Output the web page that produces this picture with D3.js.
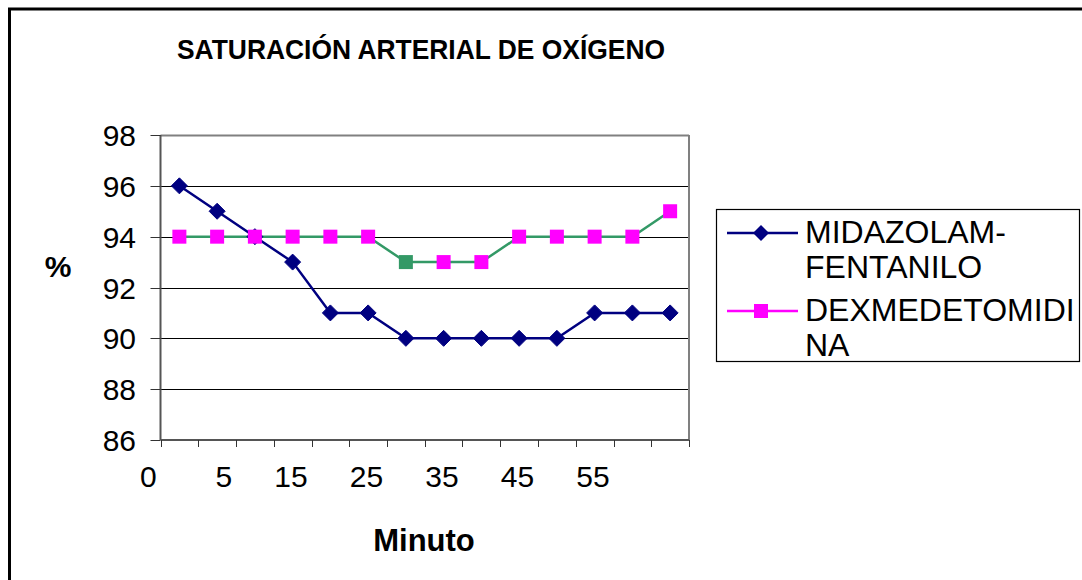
<!DOCTYPE html>
<html>
<head>
<meta charset="utf-8">
<script src="https://cdn.jsdelivr.net/npm/d3@7"></script>
<style>
  html, body { margin: 0; padding: 0; background: #fff; }
  svg { display: block; font-family: "Liberation Sans", Arial, sans-serif; }
</style>
</head>
<body>
<svg id="chart" width="1082" height="580"></svg>
<script>
// ---- data ----
const categories = ["1","2","3","4","5","6","7","8","9","10","11","12","13","14"];
const midazolam = [96, 95, 94, 93, 91, 91, 90, 90, 90, 90, 90, 91, 91, 91];
const dexmed    = [94, 94, 94, 94, 94, 94, 93, 93, 93, 94, 94, 94, 94, 95];
const xTickLabels = ["0", "5", "15", "25", "35", "45", "55"];
const yTicks = [86, 88, 90, 92, 94, 96, 98];
const seriesNames = [["MIDAZOLAM-", "FENTANILO"], ["DEXMEDETOMIDI", "NA"]];
const title = "SATURACIÓN ARTERIAL DE OXÍGENO";

// ---- layout ----
const svg = d3.select("#chart");
const plot = { left: 160.5, right: 689, top: 135, bottom: 440 };

const xIdx = d3.scaleLinear().domain([-0.5, categories.length - 0.5]).range([plot.left, plot.right]);
const y = d3.scaleLinear().domain([86, 98]).range([plot.bottom, plot.top]);

// outer chart border (extends beyond viewport on right/bottom)
svg.append("rect")
  .attr("x", 9.5).attr("y", 9).attr("width", 1100).attr("height", 600)
  .attr("fill", "none").attr("stroke", "#000").attr("stroke-width", 3);

// title
svg.append("text")
  .attr("x", 177).attr("y", 59)
  .attr("font-size", 28).attr("font-weight", "bold")
  .attr("textLength", 488).attr("lengthAdjust", "spacingAndGlyphs")
  .text(title);

// gridlines
svg.append("g").selectAll("line").data(yTicks.filter(t => t > 86)).join("line")
  .attr("x1", plot.left).attr("x2", plot.right)
  .attr("y1", d => Math.round(y(d)) + 0.5).attr("y2", d => Math.round(y(d)) + 0.5)
  .attr("stroke", d => d === 98 ? "#808080" : "#000").attr("stroke-width", d => d === 98 ? 2 : 1);

// plot right border
svg.append("line")
  .attr("x1", plot.right).attr("x2", plot.right)
  .attr("y1", plot.top).attr("y2", plot.bottom)
  .attr("stroke", "#808080").attr("stroke-width", 2);

// y axis
svg.append("line")
  .attr("x1", plot.left).attr("x2", plot.left)
  .attr("y1", plot.top).attr("y2", plot.bottom)
  .attr("stroke", "#555").attr("stroke-width", 2);
svg.append("g").selectAll("line").data(yTicks).join("line")
  .attr("x1", plot.left - 10).attr("x2", plot.left)
  .attr("y1", d => Math.round(y(d)) + 0.5).attr("y2", d => Math.round(y(d)) + 0.5)
  .attr("stroke", "#333").attr("stroke-width", 1);
svg.append("g").selectAll("text").data(yTicks).join("text")
  .attr("x", 136).attr("y", d => y(d) + 11)
  .attr("text-anchor", "end").attr("font-size", 30)
  .text(d => d);

// x axis
svg.append("line")
  .attr("x1", plot.left).attr("x2", plot.right)
  .attr("y1", plot.bottom).attr("y2", plot.bottom)
  .attr("stroke", "#555").attr("stroke-width", 2);
svg.append("g").selectAll("line").data(d3.range(categories.length + 1)).join("line")
  .attr("x1", d => Math.round(xIdx(d - 0.5)) + 0.5).attr("x2", d => Math.round(xIdx(d - 0.5)) + 0.5)
  .attr("y1", plot.bottom).attr("y2", plot.bottom + 7)
  .attr("stroke", "#333").attr("stroke-width", 1);
svg.append("g").selectAll("text").data(xTickLabels).join("text")
  .attr("x", (d, i) => xIdx(2 * i - 1) + 15)
  .attr("y", 487)
  .attr("text-anchor", "end").attr("font-size", 30)
  .text(d => d);

// axis titles
svg.append("text").attr("x", 58).attr("y", 277).attr("text-anchor", "middle")
  .attr("font-size", 30).attr("font-weight", "bold").text("%");
svg.append("text").attr("x", 424).attr("y", 551).attr("text-anchor", "middle")
  .attr("font-size", 31).attr("font-weight", "bold").text("Minuto");

// series
const navy = "#000080", green = "#339966", magenta = "#FF00FF";
const line = d3.line().x((d, i) => xIdx(i)).y(d => y(d));

svg.append("path").datum(dexmed).attr("d", line)
  .attr("fill", "none").attr("stroke", green).attr("stroke-width", 2.5);
svg.append("path").datum(midazolam).attr("d", line)
  .attr("fill", "none").attr("stroke", navy).attr("stroke-width", 2.5);

const diamond = s => `M0,${-s}L${s},0L0,${s}L${-s},0Z`;
svg.append("g").selectAll("path").data(midazolam).join("path")
  .attr("d", diamond(8))
  .attr("transform", (d, i) => `translate(${xIdx(i)},${y(d)})`)
  .attr("fill", navy).attr("stroke", navy).attr("stroke-width", 1);

svg.append("g").selectAll("rect").data(dexmed).join("rect")
  .attr("x", (d, i) => xIdx(i) - 7).attr("y", d => y(d) - 7)
  .attr("width", 14).attr("height", 14)
  .attr("fill", (d, i) => i === 6 ? green : magenta);

// legend
const lg = svg.append("g");
lg.append("rect").attr("x", 716.5).attr("y", 209.5).attr("width", 363).attr("height", 152)
  .attr("fill", "#fff").attr("stroke", "#000").attr("stroke-width", 1.2);
const legendY = [233, 311];
const legendColors = [navy, magenta];
seriesNames.forEach((lines, k) => {
  lg.append("line").attr("x1", 727).attr("x2", 798)
    .attr("y1", legendY[k]).attr("y2", legendY[k])
    .attr("stroke", legendColors[k]).attr("stroke-width", 2.5);
  if (k === 0) {
    lg.append("path").attr("d", diamond(8))
      .attr("transform", `translate(761,${legendY[k]})`).attr("fill", navy);
  } else {
    lg.append("rect").attr("x", 754).attr("y", legendY[k] - 7)
      .attr("width", 14).attr("height", 14).attr("fill", magenta);
  }
  lines.forEach((t, j) => {
    lg.append("text").attr("x", 805).attr("y", legendY[k] + 10 + j * 35)
      .attr("font-size", 32).text(t);
  });
});
</script>
</body>
</html>
